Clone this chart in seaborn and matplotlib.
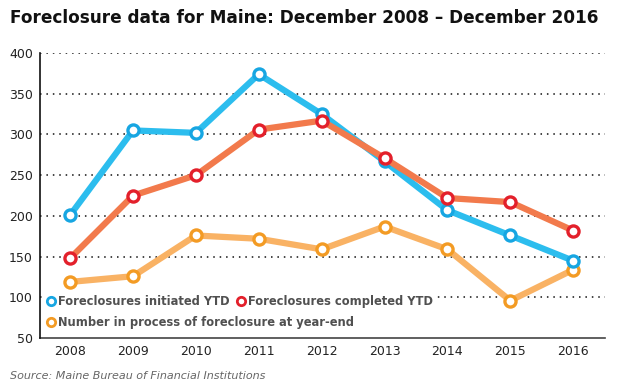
import matplotlib
matplotlib.use("Agg")
import matplotlib.pyplot as plt
import seaborn as sns
import pandas as pd
from matplotlib.lines import Line2D

years = [2008, 2009, 2010, 2011, 2012, 2013, 2014, 2015, 2016]
initiated = [201, 305, 302, 374, 325, 267, 207, 176, 145]
completed = [148, 225, 250, 306, 317, 271, 222, 217, 182]
in_process = [119, 126, 176, 172, 159, 187, 159, 96, 134]

labels = ["Foreclosures initiated YTD", "Foreclosures completed YTD",
          "Number in process of foreclosure at year-end"]
line_colors = ["#2cbdee", "#f27a4c", "#f9b264"]
edge_colors = ["#17a6e2", "#e3202b", "#f39b24"]

sns.set_style("white")
plt.rcParams["font.family"] = ["DejaVu Sans"]

fig = plt.figure(figsize=(6.24, 3.9), dpi=100)
ax = fig.add_axes([0.064, 0.133, 0.906, 0.731])

# back to front: orange, blue, red
series = {2: in_process, 0: initiated, 1: completed}
for z, (i, vals) in enumerate(series.items()):
    df = pd.DataFrame({"year": years, "value": vals})
    sns.lineplot(data=df, x="year", y="value", ax=ax, color=line_colors[i],
                 linewidth=4.5, marker="o", markersize=8,
                 markerfacecolor="white", markeredgecolor=edge_colors[i],
                 markeredgewidth=2.4, zorder=3 + z)

ax.set_xlim(2007.52, 2016.51)
ax.set_ylim(50, 400)
ax.set_xticks(years)
ax.set_yticks(range(50, 401, 50))
ax.tick_params(axis="both", length=0, labelsize=9, colors="#222222", pad=5)
ax.set_xlabel("")
ax.set_ylabel("")
for y in range(100, 401, 50):
    ax.axhline(y, color="#111111", linestyle=(0, (1, 3.2)), linewidth=1.1, zorder=1)

for s in ["top", "right"]:
    ax.spines[s].set_visible(False)
ax.spines["left"].set_color("#111111")
ax.spines["left"].set_linewidth(1.2)
ax.spines["left"].set_zorder(20)
ax.spines["bottom"].set_color("#444444")
ax.spines["bottom"].set_linewidth(1.2)

handles = [Line2D([], [], linestyle="none", marker="o", markersize=6,
                  markerfacecolor="white", markeredgecolor=edge_colors[i],
                  markeredgewidth=2.0, label=labels[i]) for i in range(3)]
leg_kw = dict(frameon=True, framealpha=1, edgecolor="white", facecolor="white",
              handletextpad=0.1, columnspacing=0.6, handlelength=0.9,
              borderpad=0.15, borderaxespad=0, fontsize=8.3)
leg1 = ax.legend(handles=handles[:2], ncol=2, loc="center left",
                 bbox_to_anchor=(0.008, 0.13), **leg_kw)
for t in leg1.get_texts():
    t.set_color("#505050")
    t.set_fontweight("bold")
leg1.set_zorder(10)
ax.add_artist(leg1)
leg2 = ax.legend(handles=handles[2:], loc="center left",
                 bbox_to_anchor=(0.008, 0.056), **leg_kw)
for t in leg2.get_texts():
    t.set_color("#505050")
    t.set_fontweight("bold")
leg2.set_zorder(10)

fig.text(0.016, 0.955, "Foreclosure data for Maine: December 2008 \u2013 December 2016",
         fontsize=12.2, fontweight="bold", color="#111111", va="center", ha="left")
fig.text(0.016, 0.035, "Source: Maine Bureau of Financial Institutions",
         fontsize=8, style="italic", color="#666666", va="center", ha="left")

fig.savefig("out.png", dpi=100)
